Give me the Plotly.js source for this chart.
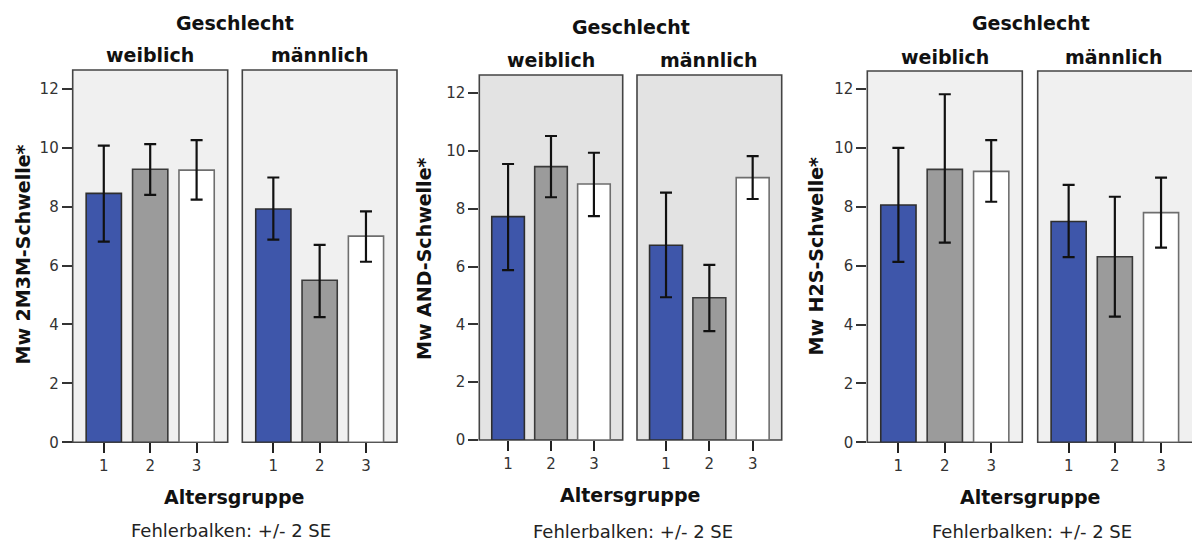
<!DOCTYPE html>
<html>
<head>
<meta charset="utf-8">
<script src="https://cdn.plot.ly/plotly-3.0.1.min.js"></script>
<style>html,body{margin:0;padding:0;background:#fff;}#chart{width:1192px;height:544px;}</style>
</head>
<body>
<div id="chart"></div>
<script>
// ---- data ----
const ageGroups = [1, 2, 3];
const ageLabels = ['1', '2', '3'];
const sexLabels = ['weiblich', 'männlich'];
const facetTitle = 'Geschlecht';
const xTitle = 'Altersgruppe';
const footnote = 'Fehlerbalken: +/- 2 SE';
const yTitles = ['Mw 2M3M-Schwelle*', 'Mw AND-Schwelle*', 'Mw H2S-Schwelle*'];
const yTickVals = [0, 2, 4, 6, 8, 10, 12];

// 2M3M
const m2m3mFemaleMean = [8.45, 9.27, 9.24];
const m2m3mFemaleUpper = [10.07, 10.12, 10.26];
const m2m3mFemaleLower = [6.81, 8.40, 8.24];
const m2m3mMaleMean = [7.92, 5.50, 7.00];
const m2m3mMaleUpper = [8.99, 6.70, 7.84];
const m2m3mMaleLower = [6.88, 4.25, 6.13];
// AND
const andFemaleMean = [7.73, 9.46, 8.86];
const andFemaleUpper = [9.55, 10.52, 9.94];
const andFemaleLower = [5.88, 8.40, 7.75];
const andMaleMean = [6.74, 4.92, 9.08];
const andMaleUpper = [8.56, 6.06, 9.82];
const andMaleLower = [4.94, 3.77, 8.34];
// H2S
const h2sFemaleMean = [8.06, 9.27, 9.20];
const h2sFemaleUpper = [10.00, 11.82, 10.26];
const h2sFemaleLower = [6.13, 6.78, 8.17];
const h2sMaleMean = [7.50, 6.30, 7.80];
const h2sMaleUpper = [8.74, 8.34, 8.99];
const h2sMaleLower = [6.29, 4.27, 6.61];

// ---- layout helpers ----
const W = 1192, H = 544;
const px = x => x / W;
const py = y => 1 - y / H;
const barColors = ['#3E56AA', '#9B9B9B', '#FFFFFF'];
const barLines = ['#2E2E2E', '#3A3A3A', '#6E6E6E'];
const FONT = 'DejaVu Sans, Arial, sans-serif';

const groups = [
  {mean: m2m3mFemaleMean, up: m2m3mFemaleUpper, lo: m2m3mFemaleLower},
  {mean: m2m3mMaleMean, up: m2m3mMaleUpper, lo: m2m3mMaleLower},
  {mean: andFemaleMean, up: andFemaleUpper, lo: andFemaleLower},
  {mean: andMaleMean, up: andMaleUpper, lo: andMaleLower},
  {mean: h2sFemaleMean, up: h2sFemaleUpper, lo: h2sFemaleLower},
  {mean: h2sMaleMean, up: h2sMaleUpper, lo: h2sMaleLower}
];

// pixel geometry of panels
const xDomPx = [[72.7, 227.7], [242.3, 397], [479.3, 622.7], [637, 781.7], [867.3, 1022.3], [1037.7, 1192]];
const yDomPx = [[70, 442.3], [70, 442.3], [75, 440], [75, 440], [71, 442.3], [71, 442.3]];
const yMax = [12.64, 12.64, 12.63, 12.63, 12.61, 12.61];
const bgCols = ['#F0F0F0', '#F0F0F0', '#E3E3E3', '#E3E3E3', '#F0F0F0', '#F0F0F0'];

const traces = [];
const layout = {
  width: W, height: H,
  margin: {l: 0, r: 0, t: 0, b: 0},
  paper_bgcolor: '#FFFFFF',
  plot_bgcolor: 'rgba(0,0,0,0)',
  showlegend: false,
  font: {family: FONT, size: 15, color: '#333'},
  shapes: [],
  annotations: []
};

groups.forEach((g, i) => {
  const n = i === 0 ? '' : String(i + 1);
  traces.push({
    type: 'bar',
    x: ageGroups,
    y: g.mean,
    width: 0.76,
    xaxis: 'x' + n, yaxis: 'y' + n,
    marker: {color: barColors, line: {color: barLines, width: 1.6}},
    error_y: {
      type: 'data', symmetric: false,
      array: g.up.map((v, k) => v - g.mean[k]),
      arrayminus: g.mean.map((v, k) => v - g.lo[k]),
      color: '#111', thickness: 2.2, width: 6
    },
    hoverinfo: 'skip'
  });
  layout['xaxis' + n] = {
    domain: [px(xDomPx[i][0]), px(xDomPx[i][1])],
    anchor: 'y' + n,
    range: [0.33, 3.67],
    tickvals: ageGroups, ticktext: ageLabels,
    ticks: 'outside', ticklen: 10, tickwidth: 2, tickcolor: '#222',
    showline: false, showgrid: false, zeroline: false,
    tickfont: {family: FONT, size: 15, color: '#333'},
    fixedrange: true
  };
  const first = i % 2 === 0;
  layout['yaxis' + n] = {
    domain: [py(yDomPx[i][1]), py(yDomPx[i][0])],
    anchor: 'x' + n,
    range: [0, yMax[i]],
    tickvals: yTickVals,
    ticks: first ? 'outside' : '', ticklen: 10, tickwidth: 2, tickcolor: '#333',
    showticklabels: first,
    showline: false, showgrid: false, zeroline: false,
    tickfont: {family: FONT, size: 15, color: '#333'},
    fixedrange: true
  };
  layout.shapes.push({
    type: 'rect', layer: 'below',
    xref: 'x' + n + ' domain', yref: 'y' + n + ' domain',
    x0: 0, x1: i === 5 ? 1.01 : 1, y0: 0, y1: 1,
    fillcolor: bgCols[i], line: {color: '#444', width: 1.6}
  });
});

// text annotations
const facetCenters = [234.8, 630.5, 1030.8];
const facetY = [23, 26.7, 23.3];
const sexY = [55, 60, 56.7];
const yTitleX = [22.5, 424, 816];
const yTitleY = [255, 259, 256.5];
const altY = [496.7, 495, 496.7];
const altX = [234, 630, 1030];
const footY = [530, 531.7, 531.7];
const footX = [231, 633, 1031.7];
function ann(text, x, y, size, bold, extra) {
  return Object.assign({
    text: text, xref: 'paper', yref: 'paper', x: px(x), y: py(y),
    xanchor: 'center', yanchor: 'middle', showarrow: false,
    font: {family: FONT, size: size, color: '#111', weight: bold ? 'bold' : 'normal'}
  }, extra || {});
}
for (let p = 0; p < 3; p++) {
  layout.annotations.push(ann(facetTitle, facetCenters[p], facetY[p], 19, true));
  for (let s = 0; s < 2; s++) {
    const d = xDomPx[p * 2 + s];
    const right = (p === 2 && s === 1) ? 1190 : d[1];
    layout.annotations.push(ann(sexLabels[s], (d[0] + right) / 2, sexY[p], 19, true));
  }
  layout.annotations.push(ann(yTitles[p], yTitleX[p], yTitleY[p], 19, true, {textangle: -90}));
  layout.annotations.push(ann(xTitle, altX[p], altY[p], 19, true));
  layout.annotations.push(ann(footnote, footX[p], footY[p], 18, false, {font: {family: FONT, size: 18, color: '#222'}}));
}

Plotly.newPlot('chart', traces, layout, {displayModeBar: false, staticPlot: true});
</script>
</body>
</html>
